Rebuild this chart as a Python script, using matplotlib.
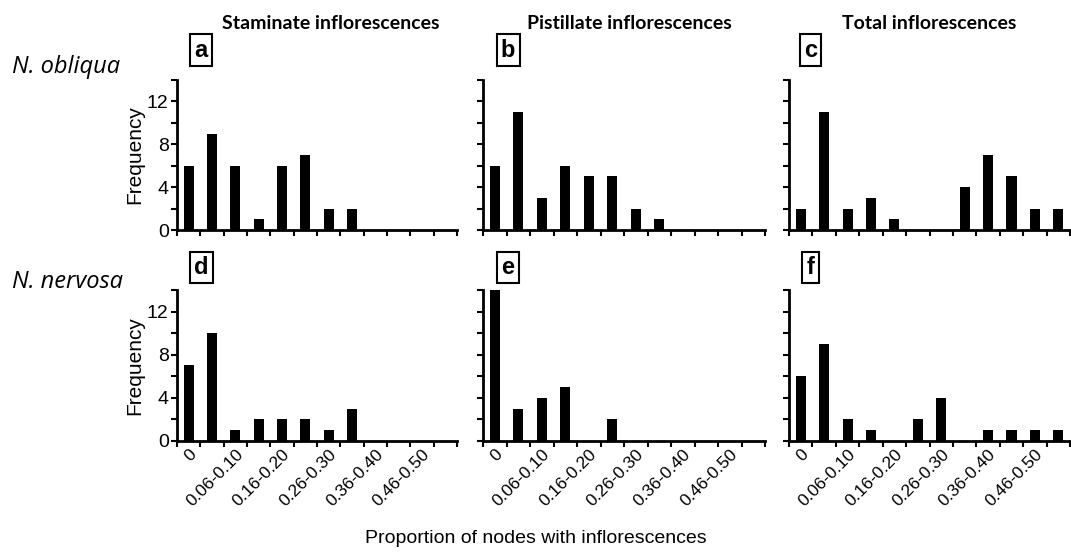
#!/usr/bin/env python3
"""Histograms of node proportions with inflorescences"""

import numpy as np
import matplotlib.pyplot as plt
from matplotlib.ticker import MultipleLocator

categories = ['0', '0.01-0.05', '0.06-0.10', '0.11-0.15', '0.16-0.20', '0.21-0.25',
              '0.26-0.30', '0.31-0.35', '0.36-0.40', '0.41-0.45', '0.46-0.50', '0.51-0.55']

obliqua_staminate = [6, 9, 6, 1, 6, 7, 2, 2, 0, 0, 0, 0]
obliqua_pistillate = [6, 11, 3, 6, 5, 5, 2, 1, 0, 0, 0, 0]
obliqua_total = [2, 11, 2, 3, 1, 0, 0, 4, 7, 5, 2, 2]
nervosa_staminate = [7, 10, 1, 2, 2, 2, 1, 3, 0, 0, 0, 0]
nervosa_pistillate = [14, 3, 4, 5, 0, 2, 0, 0, 0, 0, 0, 0]
nervosa_total = [6, 9, 2, 1, 0, 2, 4, 0, 1, 1, 1, 1]

col_titles = ['Staminate inflorescences', 'Pistillate inflorescences', 'Total inflorescences']
row_titles = ['N. obliqua', 'N. nervosa']
panel_letters = [['a', 'b', 'c'], ['d', 'e', 'f']]

data = [[obliqua_staminate, obliqua_pistillate, obliqua_total],
        [nervosa_staminate, nervosa_pistillate, nervosa_total]]

plt.rcParams['font.family'] = ['Liberation Sans', 'DejaVu Sans']

fig = plt.figure(figsize=(10.71, 5.52), dpi=100)

lefts = [0.1653, 0.451, 0.7367]
widths = [0.2614, 0.2633, 0.2624]
bottoms = [0.5833, 0.2011]
heights = [0.2717, 0.2736]
title_x = [0.55, 0.52, 0.50]
letter_x = [0.086, 0.089, 0.077]
letter_y = [1.2, 1.15]

x = np.arange(len(categories))

for r in range(2):
  for c in range(3):
    ax = fig.add_axes([lefts[c], bottoms[r], widths[c], heights[r]])
    ax.bar(x, data[r][c], width=0.43, color='black')
    ax.set_xlim(-0.5, len(categories) - 0.5)
    ax.set_ylim(0, 14)
    for s in ['top', 'right']:
      ax.spines[s].set_visible(False)
    for s in ['left', 'bottom']:
      ax.spines[s].set_linewidth(2)

    ax.yaxis.set_major_locator(MultipleLocator(4))
    ax.yaxis.set_minor_locator(MultipleLocator(2))
    ax.tick_params(axis='y', which='both', direction='out', length=4, width=1.5,
                   labelsize=14, pad=2)
    if c == 0:
      ax.set_ylabel('Frequency', fontsize=15, labelpad=2)
    else:
      ax.tick_params(axis='y', labelleft=False)

    # ticks at bin edges, labels at every other bin
    ax.set_xticks(np.arange(-0.5, len(categories)), minor=False)
    ax.set_xticklabels([])
    ax.tick_params(axis='x', which='major', direction='out', length=4, width=1.5)
    ax.set_xticks(x[::2], minor=True)
    if r == 1:
      ax.set_xticklabels(categories[::2], minor=True, rotation=45, ha='right', va='top',
                         rotation_mode='anchor', fontsize=12.5)
    ax.tick_params(axis='x', which='minor', length=0, pad=4)

    ax.text(letter_x[c], letter_y[r], panel_letters[r][c], transform=ax.transAxes,
            fontsize=17, fontweight='bold', ha='center', va='center',
            bbox=dict(boxstyle='square,pad=0.18', facecolor='white',
                      edgecolor='black', linewidth=1.5))

    if r == 0:
      ax.text(title_x[c], 1.38, col_titles[c], transform=ax.transAxes, fontsize=14,
              fontweight='bold', ha='center', va='center', family=['Lato', 'DejaVu Sans'])

fig.text(0.011, 0.878, row_titles[0], fontsize=17, style='italic', ha='left', va='center',
         family=['Open Sans', 'DejaVu Sans'])
fig.text(0.011, 0.489, row_titles[1], fontsize=17, style='italic', ha='left', va='center',
         family=['Open Sans', 'DejaVu Sans'])

fig.text(0.5, 0.025, 'Proportion of nodes with inflorescences', fontsize=14,
         ha='center', va='center')

fig.savefig('out.png', dpi=100)
